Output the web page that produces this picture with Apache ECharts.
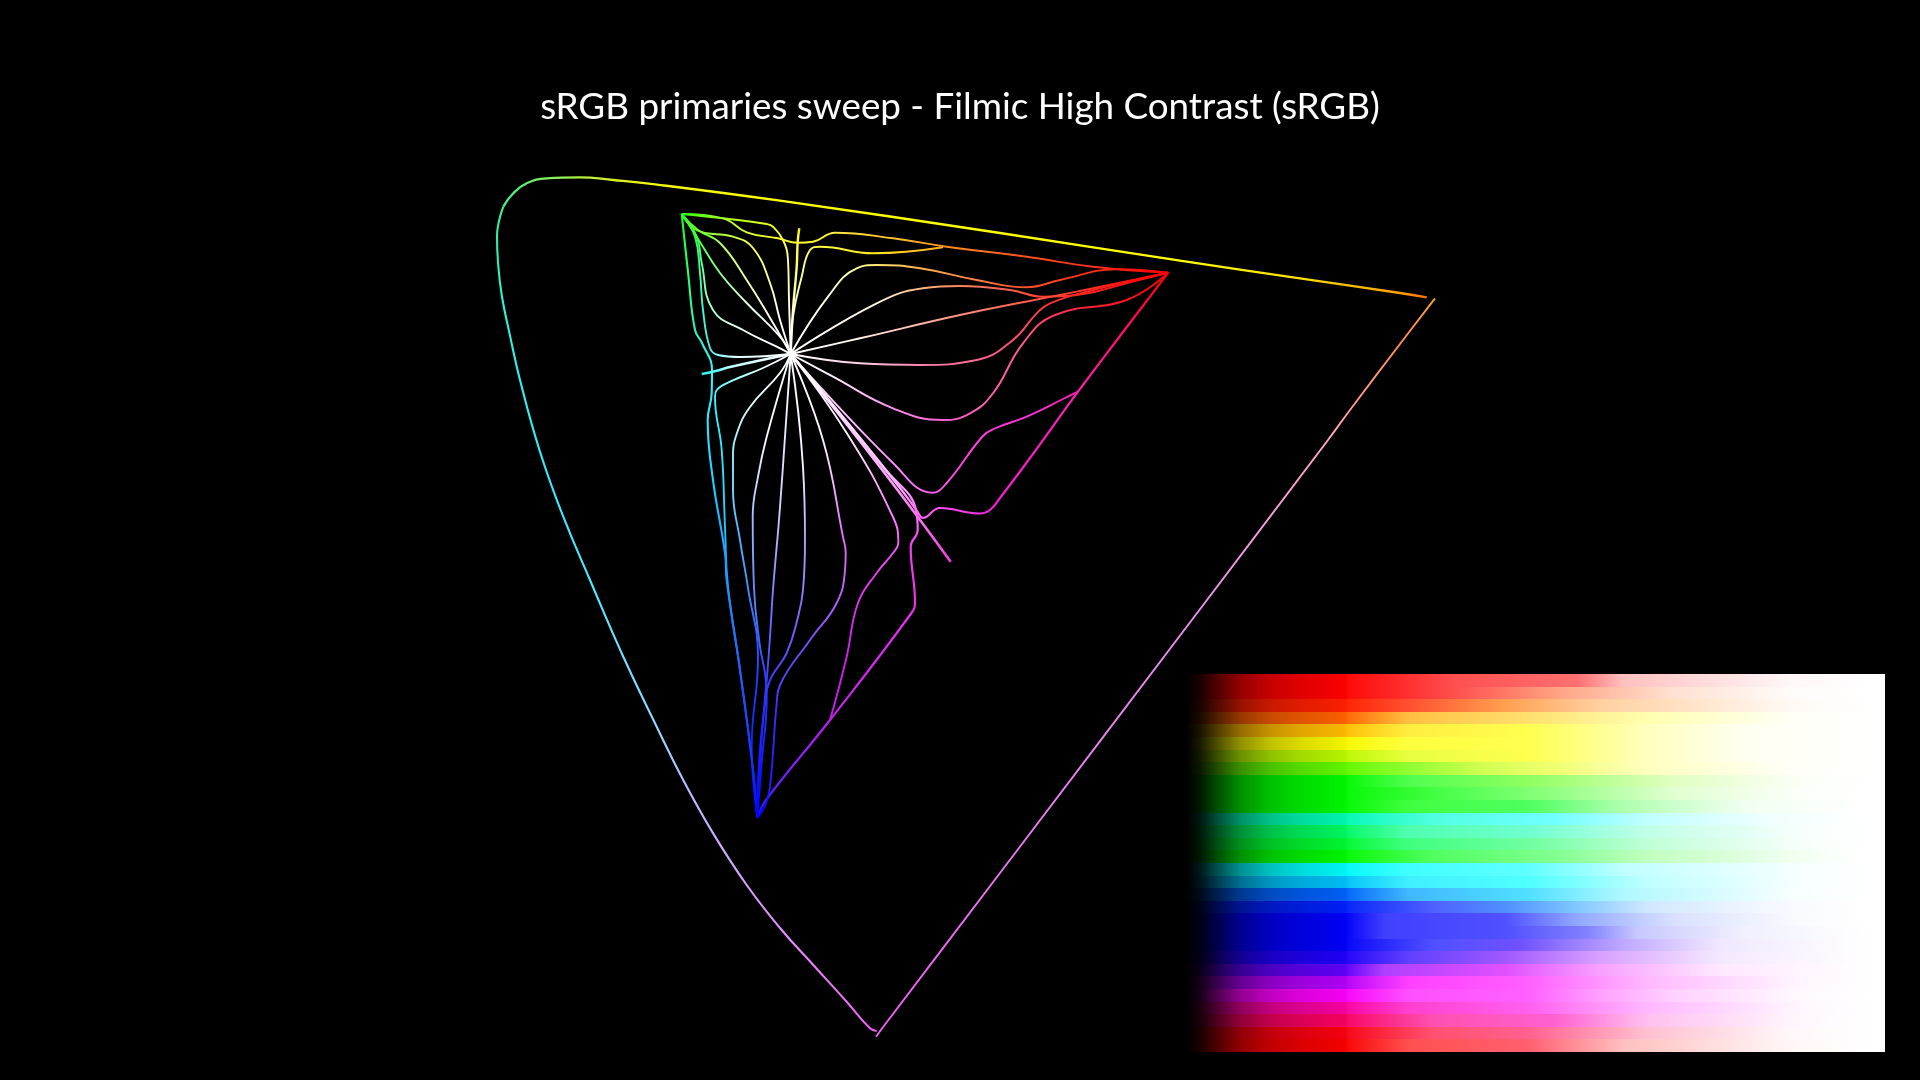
<!DOCTYPE html>
<html><head><meta charset="utf-8">
<style>html,body{margin:0;padding:0;background:#000}#c{width:1920px;height:1080px}</style>
<script src="https://cdn.jsdelivr.net/npm/echarts@6/dist/echarts.min.js"></script>
</head><body><div id="c"></div>
<script>
const chartTitle = 'sRGB primaries sweep - Filmic High Contrast (sRGB)';
const W=[790.7,354], G=[681.7,214], R=[1168.3,272.7], B=[757.3,818];

// spectral locus
const locusLeft=[[876.7,1031],[870,1028.3],[846.7,1001.7],[813.3,965],[780,928],[746.7,885],[713.3,833.6],[682.7,779],[656.7,726.7],[623.3,656.7],[590,580],[563.3,516.7],[540,451.7],[520,380],[510,335.6],[501.7,295],[498,262],[497,236],[499,221],[503.3,206.7]];
const locusLeftC=['#f060f0','#f060f0','#e870f0','#e880f8','#e090ff','#d8a0ff','#c8b0ff','#b0c0ff','#90d8ff','#70e0ff','#50e8ff','#40e8ff','#30f0f8','#30f0f0','#30f0e0','#30f0d0','#30f0b8','#30f0a8','#30f0a0','#40f090'];
const locusTop=[[503.3,206.7],[513.3,193.3],[526.7,183.3],[546.7,178.3],[580,177.3],[613.3,180],[646.7,183.3],[780,200.7],[1000,233],[1180,260.7],[1300,278.3],[1400,293],[1426.7,297.3]];
const locusTopC=['#40f090','#50f080','#60f070','#80f060','#b0f040','#d8f020','#f0f810','#ffff00','#ffff00','#ffff00','#ffe000','#ffa000','#ff7000'];
const locusRight=[[876,1036.7],[883.3,1026.7],[1000,873],[1186.7,626.7],[1328,440],[1350,410],[1400,344],[1435,298.3]];
const locusRightC=['#f060f8','#f060f8','#e878f0','#e890f0','#ffa8c8','#ff9a90','#ff9060','#ffa030'];

// sweep curves, from the white point out to the primaries
const cA=[W,[789,300],[788,260],[783,240],[773,226.7],[766.7,224],[723,218.3],G];
const cAC=['#ffffff','#ffffe0','#ffff90','#ffff40','#f0ff20','#e8ff20','#a0ff20','#30ff10'];
const cB=[G,[723,218.3],[746.7,232.3],[778,238.3],[797.7,242.7],[813,241.7],[835,232.7],[893,238.3],[946.7,246.7],[1026.7,256.7],[1093,266.7],R];
const cBC=['#30ff10','#a0ff20','#d8ff30','#f8ff30','#ffff30','#ffff30','#ffe840','#ffc030','#ff9020','#ff5020','#ff3020','#ff0000'];
const cSpike=[W,[793,310],[796.7,266.7],[797.7,241.7],[799.3,228.3]];
const cSpikeC=['#ffffff','#ffffd0','#ffff70','#ffff30','#f8f020'];
const cC=[W,[793,316.7],[801.7,276.7],[810,250],[820,246.7],[873,253.3],[943,247.3]];
const cCC=['#ffffff','#ffffe0','#ffffa0','#ffff70','#ffff40','#ffe820','#ffa820'];
const cD=[W,[828,296.7],[856.7,268.3],[876.7,265],[920,268.3],[976.7,280],[1026.7,287.3],[1060,280],[1116.7,269.3],R];
const cDC=['#ffffff','#ffffe0','#ffffa0','#ffe870','#ffb050','#ff8040','#ff5030','#ff4020','#ff2010','#ff0000'];
const cE=[W,[876.7,303.3],[923,288.3],[960,286],[1010,290],[1043,296.7],[1076.7,295],[1126.7,283.3],R];
const cEC=['#ffffff','#fff4e0','#ffb880','#ff8060','#ff6050','#ff4030','#ff3020','#ff1010','#ff0000'];
const cF=[W,[860,338.3],[960,315],[1043,298.3],[1093,288.3],R];
const cFC=['#ffffff','#fff0e8','#ff9080','#ff5040','#ff3020','#ff0000'];
const cH=[W,[860,363.3],[920,365],[976.7,360],[1013,340],[1036.7,313.3],[1050,303.3],[1093,290],R];
const cHC=['#ffffff','#ffd0e8','#ff80b0','#ff6890','#ff5070','#ff4050','#ff3030','#ff2020','#ff0000'];
const cI=[W,[833,376.7],[893,408.3],[943,420],[970,413.3],[993,393.3],[1023,343.3],[1055,315],[1126.7,300],R];
const cIC=['#ffffff','#fff0ff','#ff90f0','#ff60d0','#ff60c0','#ff60b0','#ff6090','#ff3050','#ff1020','#ff0000'];
const cJ=[W,[893,463],[933,492.7],[946.7,483],[983,436],[996,428],[1026.7,416.7],[1065,398],[1078,391.7]];
const cJC=['#ffffff','#ff90ff','#ff60f0','#ff50e8','#ff40e0','#ff38dc','#ff30d8','#ff24c0','#ff20b8'];
const cEdge=[R,[1120,336],[1078,391.7],[1030,458],[1000,498],[990,510],[980,513.5],[940,508],[923,518],[917,511],[900,488],W];
const cEdgeC=['#ff0000','#ff1070','#ff20b0','#f820c0','#f020d0','#f020d8','#f030e0','#ff50f0','#ff60f0','#ff70f0','#ffb0ff','#ffffff'];
const cMagSpike=[W,[880,467],[950.7,561.7]];
const cMagSpikeC=['#ffffff','#ffb0ff','#f040e0'];
const cK=[W,[886,470],[916,510],[917.7,530],[910.7,546.7],[915,603],[910,615],[830,720],[766,800],B];
const cKC=['#ffffff','#ffc0ff','#ff70ff','#f858f8','#f040f0','#f030e8','#e830f0','#c020e8','#5020ff','#0000ff'];
const cL=[W,[846.7,433],[893,517],[898.3,543],[893,553],[876.7,573],[858,603],[846.7,656.7],[830,720]];
const cLC=['#ffffff','#fff0ff','#ff80ff','#f860f8','#f050f8','#e840f0','#e030f0','#d020f0','#c020e8'];
const cM=[W,[823,440],[843,537],[845.7,553],[845,570],[836.7,603],[810,640],[780,685],[776.7,703],[770,786.7],[765,806],B];
const cMC=['#ffffff','#fff0ff','#e070ff','#d868f8','#c868f8','#b060ff','#8050ff','#5040ff','#4030ff','#2018ff','#1010ff','#0000ff'];
const cN=[W,[803,467],[805,540],[803,590],[798,617],[786.7,653],[770,680],[765,703],[758,780],B];
const cNC=['#ffffff','#f8f0ff','#b0a0ff','#9080ff','#8068ff','#6050ff','#4038ff','#3030ff','#1010ff','#0000ff'];
const cO=[W,[780,507],[773,590],[770,637],[766.7,680],[765,697],[760,763],B];
const cOC=['#ffffff','#d0d0ff','#8080ff','#6060ff','#4040ff','#3030ff','#1818ff','#0000ff'];
const cP=[W,[766.7,436.7],[758,476.7],[752.7,516.7],[754,588],[760,646.7],[765,673],[766.7,696.7],[761.7,763],B];
const cPC=['#ffffff','#f0fbff','#d0e0ff','#a0c0ff','#6888ff','#4060ff','#3040ff','#2838ff','#1018ff','#0000ff'];
const cQ=[W,[780,373],[750,407],[737,433],[733,457],[733,490],[740,540],[748,588],[758,657],[751.7,746.7],B];
const cQC=['#ffffff','#f8ffff','#e0fbff','#b0f4ff','#90ecff','#70d8ff','#50b0ff','#4090ff','#2050ff','#1020ff','#0000ff'];
const cS=[W,[763,368],[730,381.7],[716.7,390],[715,396.7],[721.7,450],[725,526.7],[728,586.7],[740,670],[753,770],B];
const cSC=['#ffffff','#e8ffff','#90ffff','#50f8ff','#40f0ff','#30e8ff','#20c8ff','#2098ff','#2060ff','#1030ff','#0000ff'];
const cT=[G,[688,272],[695,330],[702,343],[712,370],[711.7,393],[707.7,420],[713,480],[725,553],[726.7,580],[740,670],[753,770],B];
const cTC=['#20ff20','#30ff70','#30f0c0','#30f0d8','#40f0f0','#30f0ff','#30e8ff','#20d0ff','#20a0ff','#2098ff','#2060ff','#1030ff','#0000ff'];
const cU=[W,[730,367],[716.7,370.7],[701.7,374]];
const cUC=['#ffffff','#c0ffff','#60ffff','#30f0e8'];
const cV=[G,[695,236.7],[700,273],[703,310],[710,348],[718,355],[740,357],W];
const cVC=['#20ff20','#30ff40','#40ffa0','#40f8d0','#50f0e8','#90ffff','#e0ffff','#ffffff'];
const cX=[G,[696.7,236.7],[701.7,263],[713,310],[743,330],[776.7,346.7],W];
const cXC=['#20ff20','#40ff40','#60ffa0','#b0ffd0','#f0fff4','#ffffff','#ffffff'];
const cY=[G,[696.7,236.7],[720,273],[746.7,303],[780,336.7],W];
const cYC=['#20ff20','#40ff40','#90ff90','#e0ffe0','#ffffff','#ffffff'];
const cZ=[G,[698,230],[720,243],[746.7,280],[773,323],[790.7,354]];
const cZC=['#20ff20','#60ff30','#b0ff60','#f0ffb0','#fffff0','#ffffff'];
const cAa=[G,[698,230.7],[733,236.7],[753,248],[770,283],[780,320],W];
const cAaC=['#20ff20','#70ff30','#c8ff40','#ffff60','#ffffb0','#fffff4','#ffffff'];

const curves=[[locusLeft,locusLeftC,2.1],[locusTop,locusTopC,2.3],[locusRight,locusRightC,1.9],
 [cA,cAC],[cB,cBC],[cSpike,cSpikeC,2.4],[cC,cCC],[cD,cDC],[cE,cEC],[cF,cFC],[cH,cHC],[cI,cIC],[cJ,cJC],[cEdge,cEdgeC,2.2],
 [cMagSpike,cMagSpikeC,2.6],[cK,cKC,2.2],[cL,cLC],[cM,cMC],[cN,cNC],[cO,cOC],[cP,cPC],[cQ,cQC],[cS,cSC],[cT,cTC,2.1],[cU,cUC,2.6],
 [cV,cVC],[cX,cXC],[cY,cYC],[cZ,cZC],[cAa,cAaC]];

// sweep strip: per row, the peak colour and its lighter exposure stops
const sweepLeft=1186, sweepRight=1885, sweepTop=674, sweepRowH=12.6, peakAt=1345, sweepWhiteAt=1872;
const fadeX=[1186,1200,1220,1240,1270,1300,1345];
const fadeK=[0,0.1,0.35,0.58,0.78,0.88,0.98];
const rowPeaks=['#ff0000','#ff0000','#ff2000','#ff6000','#ffbb00','#f8f800','#b8f800','#60f800','#00f800','#00f800','#00f800','#00f8b0','#00f860','#00f830','#00f800','#00f8f8','#00c0f8','#0060f8','#0020f8','#0000f8','#0000f8','#0000f8','#2000f8','#6000f8','#b000f8','#f800f8','#f800a0','#f80060','#f80010','#f80000'];
const rowStops=[
 [[1457,'#ff5050'],[1577,'#ff7070'],[1624,'#ffc0c0'],[1790,'#ffffff']],
 [[1457,'#ff5050'],[1553,'#ffa080'],[1672,'#ffe0d0'],[1790,'#ffffff']],
 [[1409,'#ff5030'],[1505,'#ffa050'],[1600,'#ffd0a0'],[1790,'#ffffff']],
 [[1409,'#ffc040'],[1529,'#ffe070'],[1648,'#ffffb0'],[1792,'#ffffff']],
 [[1409,'#ffee40'],[1529,'#ffff50'],[1648,'#ffffc0'],[1744,'#fffff0'],[1850,'#ffffff']],
 [[1409,'#ffff40'],[1529,'#ffff50'],[1648,'#ffffc0'],[1744,'#fffff0'],[1850,'#ffffff']],
 [[1409,'#e8ff40'],[1529,'#ffff50'],[1648,'#ffffc0'],[1744,'#fffff0'],[1850,'#ffffff']],
 [[1409,'#90ff30'],[1481,'#d0ff50'],[1553,'#f0ff70'],[1648,'#ffffc0'],[1790,'#ffffff']],
 [[1409,'#50ff50'],[1529,'#90ff60'],[1672,'#e0ffc0'],[1800,'#ffffff']],
 [[1457,'#50ff50'],[1553,'#90ff80'],[1672,'#e0ffd0'],[1800,'#ffffff']],
 [[1409,'#40ff40'],[1529,'#50ff60'],[1624,'#b0ffb0'],[1744,'#f0fff0'],[1840,'#ffffff']],
 [[1433,'#50ffe0'],[1553,'#70ffff'],[1648,'#c0ffff'],[1768,'#f0ffff'],[1850,'#ffffff']],
 [[1409,'#50ffb0'],[1529,'#70ffd0'],[1648,'#c0ffe8'],[1800,'#ffffff']],
 [[1409,'#40ff80'],[1529,'#70ffa0'],[1648,'#c0ffd8'],[1800,'#ffffff']],
 [[1433,'#50ff60'],[1553,'#80ff90'],[1648,'#c0ffc0'],[1792,'#f0fff0'],[1850,'#ffffff']],
 [[1409,'#40ffff'],[1529,'#60ffff'],[1624,'#c0ffff'],[1800,'#ffffff']],
 [[1409,'#40f0ff'],[1529,'#50ffff'],[1648,'#c0ffff'],[1800,'#ffffff']],
 [[1409,'#40b8ff'],[1529,'#50e0ff'],[1624,'#b0f8ff'],[1790,'#ffffff']],
 [[1433,'#5060ff'],[1505,'#5090ff'],[1577,'#80c8ff'],[1648,'#d0e8ff'],[1768,'#f4f8ff'],[1850,'#ffffff']],
 [[1385,'#4040ff'],[1505,'#5050ff'],[1577,'#90a8ff'],[1672,'#d8e0ff'],[1800,'#fbfbff']],
 [[1385,'#4040ff'],[1505,'#5050ff'],[1586,'#8080ff'],[1638,'#c8c8ff'],[1744,'#f0f0ff'],[1850,'#ffffff']],
 [[1433,'#5050ff'],[1519,'#7050ff'],[1624,'#c0a8ff'],[1720,'#f0e8ff'],[1850,'#ffffff']],
 [[1409,'#6040ff'],[1505,'#a058ff'],[1600,'#d8a0ff'],[1720,'#f4e8ff'],[1850,'#ffffff']],
 [[1385,'#b040ff'],[1505,'#e050ff'],[1600,'#f8a0ff'],[1720,'#ffe8ff'],[1850,'#ffffff']],
 [[1409,'#ff40ff'],[1529,'#ff60ff'],[1648,'#ffb8ff'],[1800,'#ffffff']],
 [[1409,'#ff50ff'],[1529,'#ff60ff'],[1600,'#ffa0ff'],[1672,'#ffd0ff'],[1800,'#ffffff']],
 [[1409,'#ff40d0'],[1529,'#ff60f0'],[1648,'#ffb8ff'],[1800,'#ffffff']],
 [[1433,'#ff50b0'],[1553,'#ff60d0'],[1648,'#ffc0f0'],[1800,'#ffffff']],
 [[1433,'#ff5070'],[1529,'#ff6090'],[1648,'#ffc0d0'],[1790,'#ffffff']],
 [[1409,'#ff5050'],[1529,'#ff6070'],[1624,'#ffc0c0'],[1790,'#ffffff']]
];

function scaleColor(hex,k){
  const n=parseInt(hex.slice(1),16);
  return 'rgb('+[(n>>16)&255,(n>>8)&255,n&255].map(v=>Math.round(v*k)).join(',')+')';
}
function rowGradient(i){
  const span=sweepRight-sweepLeft, stops=[], row=rowStops[i];
  fadeX.forEach((x,j)=>stops.push({offset:(x-sweepLeft)/span,color:scaleColor(rowPeaks[i],fadeK[j])}));
  stops.push({offset:(peakAt+4-sweepLeft)/span,color:echarts.color.lerp(0.14,[rowPeaks[i],row[0][1]])});
  row.forEach((s,j)=>{
    const c=(j===row.length-1)?echarts.color.lerp(0.88,[row[j-1][1],'#ffffff']):s[1];
    stops.push({offset:(s[0]-sweepLeft)/span,color:c});
  });
  stops.push({offset:(sweepWhiteAt-sweepLeft)/span,color:'#ffffff'});
  stops.push({offset:1,color:'#ffffff'});
  return new echarts.graphic.LinearGradient(0,0,1,0,stops);
}

const chart=echarts.init(document.getElementById('c'),null,{renderer:'canvas'});
const base={
  animation:false,backgroundColor:'#000',
  title:{text:chartTitle,left:'center',top:84,textStyle:{color:'#fff',fontFamily:'Lato',fontSize:36.8,fontWeight:'normal'}},
  grid:{left:0,right:0,top:0,bottom:0},
  xAxis:{type:'value',min:0,max:1920,show:false},
  yAxis:{type:'value',min:0,max:1080,inverse:true,show:false},
  series:[{type:'custom',id:'sweep',coordinateSystem:'cartesian2d',clip:false,silent:true,
    data:rowPeaks.map((_,i)=>[i]),
    encode:{x:[],y:[]},
    renderItem:function(params,api){
      const i=api.value(0);
      const a=api.coord([sweepLeft,sweepTop+i*sweepRowH]);
      const b=api.coord([sweepRight,sweepTop+(i+1)*sweepRowH]);
      return {type:'rect',shape:{x:a[0],y:Math.round(a[1]),width:b[0]-a[0],height:Math.round(b[1])-Math.round(a[1])},style:{fill:rowGradient(i)}};
    }}]
};
chart.setOption(base);

function lineSeries(c){
  const pts=c[0], cols=c[1], width=c[2]||1.9;
  const p0=chart.convertToPixel({gridIndex:0},pts[0]);
  const p1=chart.convertToPixel({gridIndex:0},pts[pts.length-1]);
  const dx=p1[0]-p0[0], dy=p1[1]-p0[1], len=dx*dx+dy*dy;
  let last=0;
  const stops=pts.map((p,i)=>{
    const q=chart.convertToPixel({gridIndex:0},p);
    let t=((q[0]-p0[0])*dx+(q[1]-p0[1])*dy)/len;
    t=Math.max(last,Math.min(1,t)); last=t;
    return {offset:t,color:cols[i]};
  });
  return {type:'line',data:pts,showSymbol:false,symbol:'none',smooth:0.45,clip:false,silent:true,
    lineStyle:{width:width,color:{type:'linear',x:p0[0],y:p0[1],x2:p1[0],y2:p1[1],global:true,colorStops:stops}}};
}
chart.setOption({series:base.series.concat(curves.map(lineSeries))});
</script></body></html>
